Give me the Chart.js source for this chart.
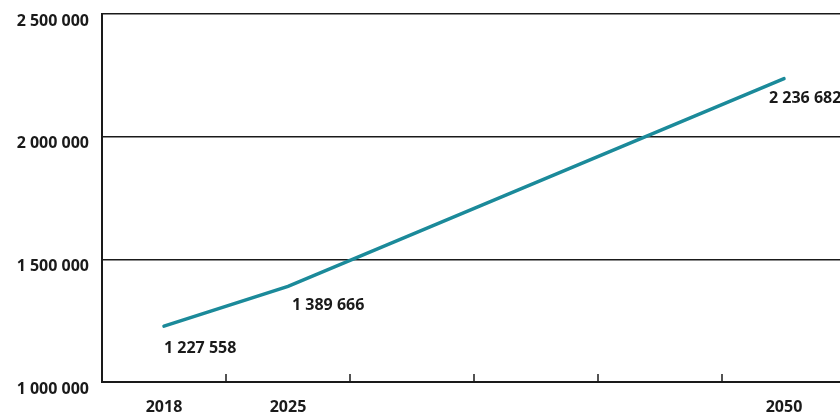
<!DOCTYPE html>
<html>
<head>
<meta charset="utf-8">
<script src="https://cdn.jsdelivr.net/npm/chart.js@4/dist/chart.umd.min.js"></script>
<style>
  html, body { margin: 0; padding: 0; background: #ffffff; overflow: hidden; }
  #wrap { width: 840px; height: 415px; position: relative; overflow: hidden; }
  #c { display: block; }
</style>
</head>
<body>
<div id="wrap"><canvas id="c" width="846" height="415"></canvas></div>
<script>
// Population projection, years on a category axis
const years = ['2018', '2025', '', '', '', '2050'];
const population = [1227558, 1389666, null, null, null, 2236682];
const yTicks = [1000000, 1500000, 2000000, 2500000];

const FONT = { family: "'Open Sans', sans-serif", size: 16, weight: 'bold' };
const INK = '#1a1a1a';
const LINE = '#1b8a9a';

function fmt(v) {
  return String(v).replace(/\B(?=(\d{3})+(?!\d))/g, ' ');
}

// small inward tick marks between categories on the x axis
const innerTicks = {
  id: 'innerTicks',
  afterDraw(chart) {
    const x = chart.scales.x, y = chart.scales.y;
    const ctx = chart.ctx;
    const base = y.getPixelForValue(yTicks[0]);
    ctx.save();
    ctx.strokeStyle = INK;
    ctx.lineWidth = 1.5;
    for (let i = 1; i < years.length; i++) {
      const px = (x.getPixelForValue(i - 1) + x.getPixelForValue(i)) / 2;
      ctx.beginPath();
      ctx.moveTo(px, base);
      ctx.lineTo(px, base - 8);
      ctx.stroke();
    }
    ctx.restore();
  }
};

// value labels beside the known data points
const labelOffsets = { 0: [0, 22], 1: [4, 19], 5: [-15, 20] };
const valueLabels = {
  id: 'valueLabels',
  afterDatasetsDraw(chart) {
    const meta = chart.getDatasetMeta(0);
    const ctx = chart.ctx;
    ctx.save();
    ctx.font = `${FONT.weight} ${FONT.size}px ${FONT.family}`;
    ctx.fillStyle = INK;
    ctx.textAlign = 'left';
    ctx.textBaseline = 'middle';
    population.forEach((v, i) => {
      if (v === null) return;
      const pt = meta.data[i];
      const off = labelOffsets[i] || [0, 20];
      ctx.fillText(fmt(v), pt.x + off[0], pt.y + off[1]);
    });
    ctx.restore();
  }
};

function noPad(s) {
  s.paddingTop = 0; s.paddingBottom = 0; s.paddingLeft = 0; s.paddingRight = 0;
}

new Chart(document.getElementById('c'), {
  type: 'line',
  data: {
    labels: years,
    datasets: [{
      data: population,
      borderColor: LINE,
      borderWidth: 3.5,
      borderCapStyle: 'round',
      pointRadius: 0,
      tension: 0,
      spanGaps: true
    }]
  },
  options: {
    responsive: false,
    animation: false,
    layout: { padding: { top: 14, right: 0, left: 0, bottom: 0 } },
    plugins: { legend: { display: false }, tooltip: { enabled: false } },
    scales: {
      x: {
        offset: true,
        grid: { display: false, offset: true, drawTicks: false },
        border: { display: true, color: INK, width: 2 },
        ticks: { color: INK, font: FONT, padding: 16, maxRotation: 0, autoSkip: false },
        afterFit(s) { s.height = 33; noPad(s); }
      },
      y: {
        min: 1000000,
        max: 2500000,
        afterBuildTicks(s) { s.ticks = yTicks.map(v => ({ value: v })); },
        grid: { color: INK, lineWidth: 1.5, drawTicks: false },
        border: { display: true, color: INK, width: 2 },
        ticks: { color: INK, font: FONT, padding: 13, labelOffset: 7, callback: v => fmt(v) },
        afterFit(s) { s.width = 102; noPad(s); }
      }
    }
  },
  plugins: [innerTicks, valueLabels]
});
</script>
</body>
</html>
